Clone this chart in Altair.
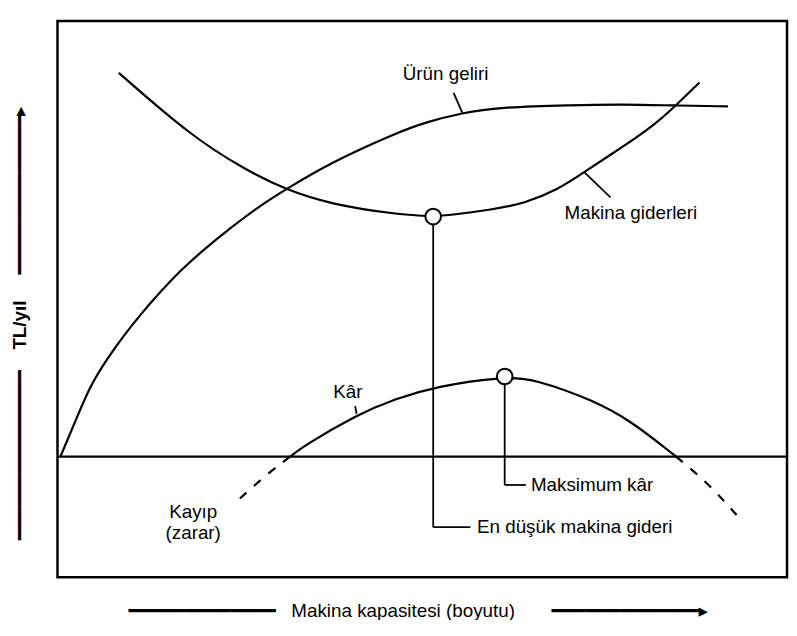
import altair as alt
import pandas as pd

FONT = "Liberation Sans"
TFONT = "Liberation Sans, DejaVu Sans"

# ---- data (x: machine capacity 0-100, y: TL/year, 0 = break-even line)
revenue_x = [0.4, 2.31, 4.57, 6.82, 9.09, 11.36, 14.07, 16.78, 19.95, 24.02, 28.09, 31.25,
             37.3, 46.4, 50.5, 55.5, 60.4, 70.4, 77.6, 84.4, 91.9]
revenue_y = [0, 7.6, 16.6, 22.5, 27.8, 32.6, 37.8, 42.6, 47.4, 52.9, 58.0, 61.3,
             67.4, 74.3, 76.8, 78.9, 80.2, 80.7, 80.9, 80.6, 80.4]

cost_x = [8.4, 18.3, 25.6, 31.25, 37.3, 46.4, 51.5, 54.1, 59.5, 64.0, 68.6, 72.2, 75.8,
          79.4, 82.1, 84.4, 88.0]
cost_y = [88.1, 73.6, 66.0, 61.3, 58.0, 55.6, 55.1, 55.5, 56.7, 58.1, 61.3, 65.3, 69.3,
          73.3, 76.6, 80.0, 85.9]

profit_x = [25.0, 28.8, 31.9, 33.8, 41.0, 46.4, 51.8, 61.3, 65.4, 73.5, 78.7, 84.8, 89.2, 93.2]
profit_y = [-9.6, -3.9, 0, 2.5, 9.6, 13.3, 16.1, 18.4, 17.8, 12.9, 8.1, 0, -6.1, -13.6]

# marked points
min_cost = (51.5, 55.1)
max_profit = (61.3, 18.4)

# labels
center_labels = ["Ürün geliri", "Makina giderleri", "Kâr", "Kayıp\n(zarar)"]
center_lx = [53.2, 78.6, 39.8, 18.6]
center_ly = [87.8, 55.9, 14.8, -12.8]

left_labels = ["Maksimum kâr", "En düşük makina gideri"]
left_lx = [64.9, 57.5]
left_ly = [-6.5, -16.2]

# leader lines (x, y) -> (x2, y2)
lead_x = [54.3, 72.2, 40.8, max_profit[0], max_profit[0], min_cost[0], min_cost[0]]
lead_y = [83.5, 65.3, 11.6, max_profit[1], -6.5, min_cost[1], -16.2]
lead_x2 = [55.5, 75.8, 41.0, max_profit[0], 64.2, min_cost[0], 56.6]
lead_y2 = [78.9, 59.5, 9.8, -6.5, -6.5, -16.2, -16.2]

XT = "━" * 13 + "\u00a0" * 3 + "Makina kapasitesi (boyutu)" + "\u00a0" * 7 + "━" * 13 + "▸"
YT = "━" * 15 + "\u00a0" * 4 + "TL/yıl" + "\u00a0" * 5 + "━" * 14 + "▸"

# ---- tables
rev = pd.DataFrame({"x": revenue_x, "y": revenue_y})
cost = pd.DataFrame({"x": cost_x, "y": cost_y})
segs = []
for i, (px, py) in enumerate(zip(profit_x, profit_y)):
    if i <= 2:
        segs.append({"x": px, "y": py, "seg": "loss_left"})
    if 2 <= i <= 11:
        segs.append({"x": px, "y": py, "seg": "gain"})
    if i >= 11:
        segs.append({"x": px, "y": py, "seg": "loss_right"})
profit = pd.DataFrame(segs)
zero = pd.DataFrame({"y": [0]})
leads = pd.DataFrame({"x": lead_x, "y": lead_y, "x2": lead_x2, "y2": lead_y2})
pts = pd.DataFrame({"x": [min_cost[0], max_profit[0]], "y": [min_cost[1], max_profit[1]]})
clab = pd.DataFrame({"text": center_labels, "x": center_lx, "y": center_ly})
llab = pd.DataFrame({"text": left_labels, "x": left_lx, "y": left_ly})

xs = alt.Scale(domain=[0, 100], nice=False, zero=False)
ys = alt.Scale(domain=[-27.7, 100], nice=False, zero=False)

X = alt.X("x:Q", scale=xs, title=XT,
          axis=alt.Axis(labels=False, ticks=False, domain=False, grid=False,
                        titleFont=TFONT, titleFontSize=19, titleFontWeight="normal",
                        titleColor="black", titleX=364, titleY=34, titleAngle=0,
                        titleAlign="center", titleBaseline="middle"))
Y = alt.Y("y:Q", scale=ys, title=YT,
          axis=alt.Axis(labels=False, ticks=False, domain=False, grid=False,
                        titleFont=TFONT, titleFontSize=19, titleFontWeight="bold",
                        titleColor="black", titleX=-38, titleY=305, titleAngle=270,
                        titleAlign="center", titleBaseline="middle"))

line_kw = dict(color="black", strokeWidth=2.2, interpolate="basis")

rev_line = alt.Chart(rev).mark_line(**line_kw).encode(x=X, y=Y)
cost_line = alt.Chart(cost).mark_line(**line_kw).encode(x=X, y=Y)
profit_gain = alt.Chart(profit).transform_filter(alt.datum.seg == "gain").mark_line(**line_kw).encode(x=X, y=Y)
profit_loss = alt.Chart(profit).transform_filter(alt.datum.seg != "gain").mark_line(
    strokeDash=[9, 10], **line_kw).encode(x=X, y=Y, detail="seg:N")
zero_rule = alt.Chart(zero).mark_rule(color="black", strokeWidth=2.2).encode(y=Y)
lead_rules = alt.Chart(leads).mark_rule(color="black", strokeWidth=1.8).encode(
    x=X, y=Y, x2="x2:Q", y2="y2:Q")
circles = alt.Chart(pts).mark_point(shape="circle", filled=True, fill="white", stroke="black",
                                    strokeWidth=2, size=250, opacity=1).encode(x=X, y=Y)
text_c = alt.Chart(clab).mark_text(font=FONT, fontSize=19, color="black", align="center",
                                   baseline="middle", lineBreak="\n", lineHeight=21).encode(
    x=X, y=Y, text="text:N")
text_l = alt.Chart(llab).mark_text(font=FONT, fontSize=19, color="black", align="left",
                                   baseline="middle").encode(x=X, y=Y, text="text:N")

chart = alt.layer(
    zero_rule, rev_line, cost_line, profit_gain, profit_loss, lead_rules, circles, text_c, text_l
).properties(
    width=737, height=562,
    padding={"left": 50, "top": 10, "right": 2, "bottom": 40},
    autosize=alt.AutoSizeParams(type="none"),
    background="white",
).configure_view(stroke="black", strokeWidth=2.5)

chart.save("out.html", embed_options={"renderer": "svg", "actions": False})
